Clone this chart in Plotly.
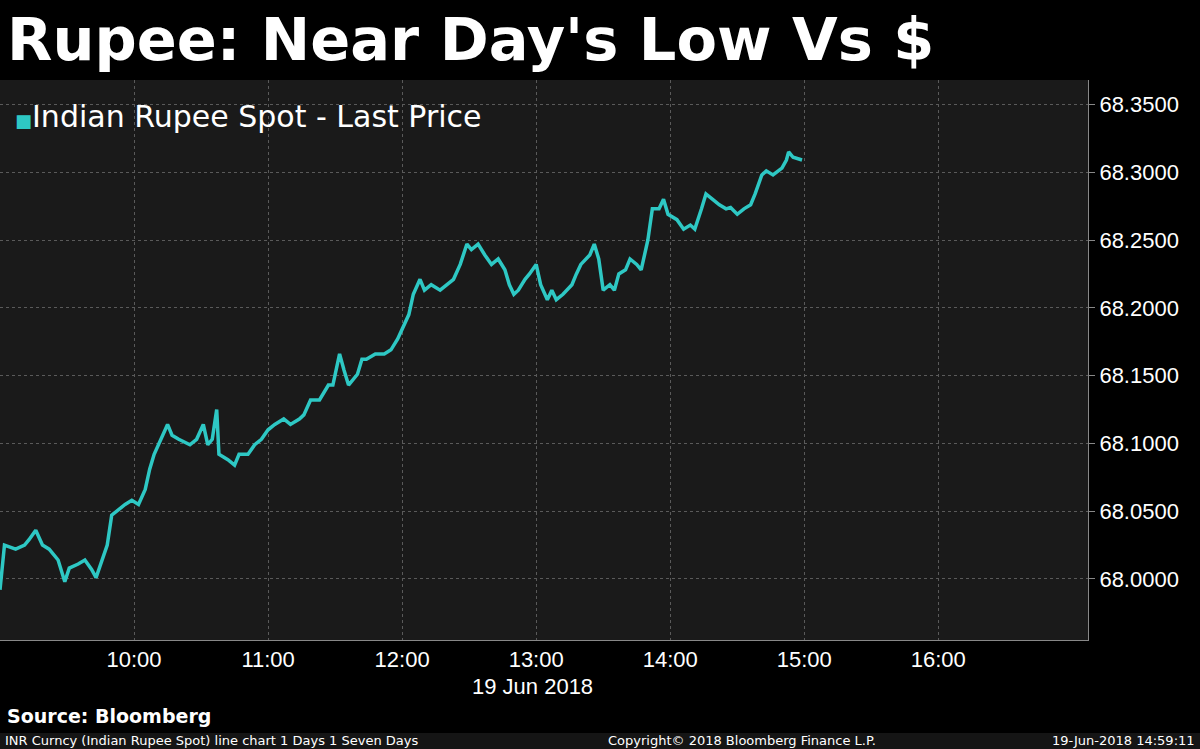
import plotly.graph_objects as go

times = ["09:00", "09:02", "09:07", "09:11", "09:13", "09:16", "09:19", "09:22", "09:26", "09:29",
         "09:31", "09:35", "09:38", "09:41", "09:43", "09:46", "09:48", "09:50", "09:53", "09:56",
         "09:59", "10:02", "10:05", "10:07", "10:09", "10:12", "10:15", "10:17", "10:20", "10:25",
         "10:28", "10:31", "10:33", "10:35", "10:37", "10:38", "10:42", "10:45", "10:47", "10:51",
         "10:54", "10:57", "11:00", "11:03", "11:07", "11:10", "11:14", "11:16", "11:19", "11:23",
         "11:27", "11:29", "11:32", "11:34", "11:36", "11:40", "11:42", "11:44", "11:48", "11:52",
         "11:55", "11:58", "12:01", "12:03", "12:05", "12:08", "12:10", "12:13", "12:17", "12:20",
         "12:23", "12:26", "12:29", "12:31", "12:34", "12:37", "12:40", "12:43", "12:46", "12:48",
         "12:50", "12:52", "12:55", "12:57", "13:00", "13:02", "13:05", "13:07", "13:09", "13:12",
         "13:16", "13:18", "13:20", "13:24", "13:26", "13:28", "13:30", "13:33", "13:35", "13:37",
         "13:40", "13:42", "13:45", "13:47", "13:50", "13:52", "13:55", "13:57", "13:59", "14:03",
         "14:06", "14:09", "14:11", "14:14", "14:16", "14:19", "14:22", "14:25", "14:27", "14:30",
         "14:33", "14:36", "14:38", "14:41", "14:43", "14:46", "14:50", "14:52", "14:53", "14:55",
         "14:59"]
prices = [67.992, 68.025, 68.022, 68.025, 68.029, 68.036, 68.025, 68.022, 68.014, 67.998,
          68.008, 68.011, 68.014, 68.007, 68.001, 68.016, 68.025, 68.047, 68.051, 68.055,
          68.058, 68.055, 68.066, 68.081, 68.092, 68.103, 68.114, 68.106, 68.103, 68.099,
          68.103, 68.114, 68.099, 68.103, 68.125, 68.092, 68.088, 68.084, 68.092, 68.092,
          68.099, 68.103, 68.110, 68.114, 68.118, 68.114, 68.118, 68.121, 68.132, 68.132,
          68.143, 68.143, 68.166, 68.154, 68.143, 68.151, 68.162, 68.162, 68.166, 68.166,
          68.169, 68.177, 68.188, 68.195, 68.210, 68.221, 68.213, 68.217, 68.213, 68.217,
          68.221, 68.232, 68.247, 68.243, 68.247, 68.239, 68.232, 68.236, 68.228, 68.217,
          68.210, 68.213, 68.221, 68.225, 68.232, 68.217, 68.206, 68.213, 68.206, 68.210,
          68.217, 68.225, 68.232, 68.239, 68.247, 68.236, 68.213, 68.217, 68.213, 68.225,
          68.228, 68.236, 68.232, 68.228, 68.250, 68.273, 68.273, 68.280, 68.269, 68.265,
          68.258, 68.261, 68.258, 68.273, 68.284, 68.280, 68.276, 68.273, 68.274, 68.269,
          68.273, 68.276, 68.284, 68.298, 68.301, 68.298, 68.303, 68.309, 68.315, 68.311,
          68.309]
y_ticks = [68.0, 68.05, 68.1, 68.15, 68.2, 68.25, 68.3, 68.35]
x_ticks = ["10:00", "11:00", "12:00", "13:00", "14:00", "15:00", "16:00"]

day = "2018-06-19 "
font = "Liberation Sans"

fig = go.Figure(go.Scatter(
    x=[day + t for t in times], y=prices, mode="lines",
    line=dict(color="#2ec8c4", width=3.5), hoverinfo="skip"))

fig.update_layout(
    width=1200, height=749, showlegend=False,
    paper_bgcolor="black", plot_bgcolor="#1a1a1a",
    margin=dict(l=0, r=112, t=80, b=109),
    font=dict(family=font, color="white"),
    xaxis=dict(range=[day + "09:00", day + "17:07"],
               tickvals=[day + t for t in x_ticks], ticktext=x_ticks,
               tickfont=dict(size=22, color="white"),
               showgrid=True, gridcolor="#5a5a5a", griddash="dot", gridwidth=1,
               showline=True, linecolor="#888", linewidth=1,
               ticks="", zeroline=False),
    yaxis=dict(side="right", range=[67.955, 68.368], tickvals=y_ticks,
               tickformat=".4f", tickfont=dict(size=22, color="white"),
               showgrid=True, gridcolor="#5a5a5a", griddash="dot", gridwidth=1,
               showline=True, linecolor="#888", linewidth=1,
               ticks="outside", ticklen=6, tickcolor="#888", zeroline=False),
)

fig.add_annotation(xref="paper", yref="paper", x=0.005, y=1.073, xanchor="left", yanchor="middle",
                   text="<b>Rupee: Near Day's Low Vs $</b>", showarrow=False,
                   font=dict(size=59, color="white", family="DejaVu Sans"))
fig.add_annotation(xref="paper", yref="paper", x=0.012, y=0.935, xanchor="left", yanchor="middle",
                   text="<span style='color:#2ec8c4;font-size:18px'>■</span>Indian Rupee Spot - Last Price",
                   showarrow=False, font=dict(size=30, color="white", family="DejaVu Sans"))
fig.add_annotation(xref="paper", yref="paper", x=0.489, y=-0.083, xanchor="center", yanchor="middle",
                   text="19 Jun 2018", showarrow=False, font=dict(size=22, color="white"))
fig.add_annotation(xref="paper", yref="paper", x=0.005, y=-0.136, xanchor="left", yanchor="middle",
                   text="<b>Source: Bloomberg</b>", showarrow=False,
                   font=dict(size=19, color="white", family="DejaVu Sans"))
fig.add_shape(type="rect", xref="paper", yref="paper", x0=0, x1=1.103, y0=-0.195, y1=-0.166,
              fillcolor="#151515", line=dict(width=0), layer="below")
fig.add_annotation(xref="paper", yref="paper", x=0.003, y=-0.18, xanchor="left", yanchor="middle",
                   text="INR Curncy (Indian Rupee Spot) line chart 1 Days 1 Seven Days",
                   showarrow=False, font=dict(size=13, color="white", family="DejaVu Sans"))
fig.add_annotation(xref="paper", yref="paper", x=0.682, y=-0.18, xanchor="center", yanchor="middle",
                   text="Copyright© 2018 Bloomberg Finance L.P.",
                   showarrow=False, font=dict(size=13, color="white", family="DejaVu Sans"))
fig.add_annotation(xref="paper", yref="paper", x=1.1, y=-0.18, xanchor="right", yanchor="middle",
                   text="19-Jun-2018 14:59:11",
                   showarrow=False, font=dict(size=13, color="white", family="DejaVu Sans"))

fig.write_html("out.html", config={"displayModeBar": False},
               post_script="document.body.style.margin='0';")
